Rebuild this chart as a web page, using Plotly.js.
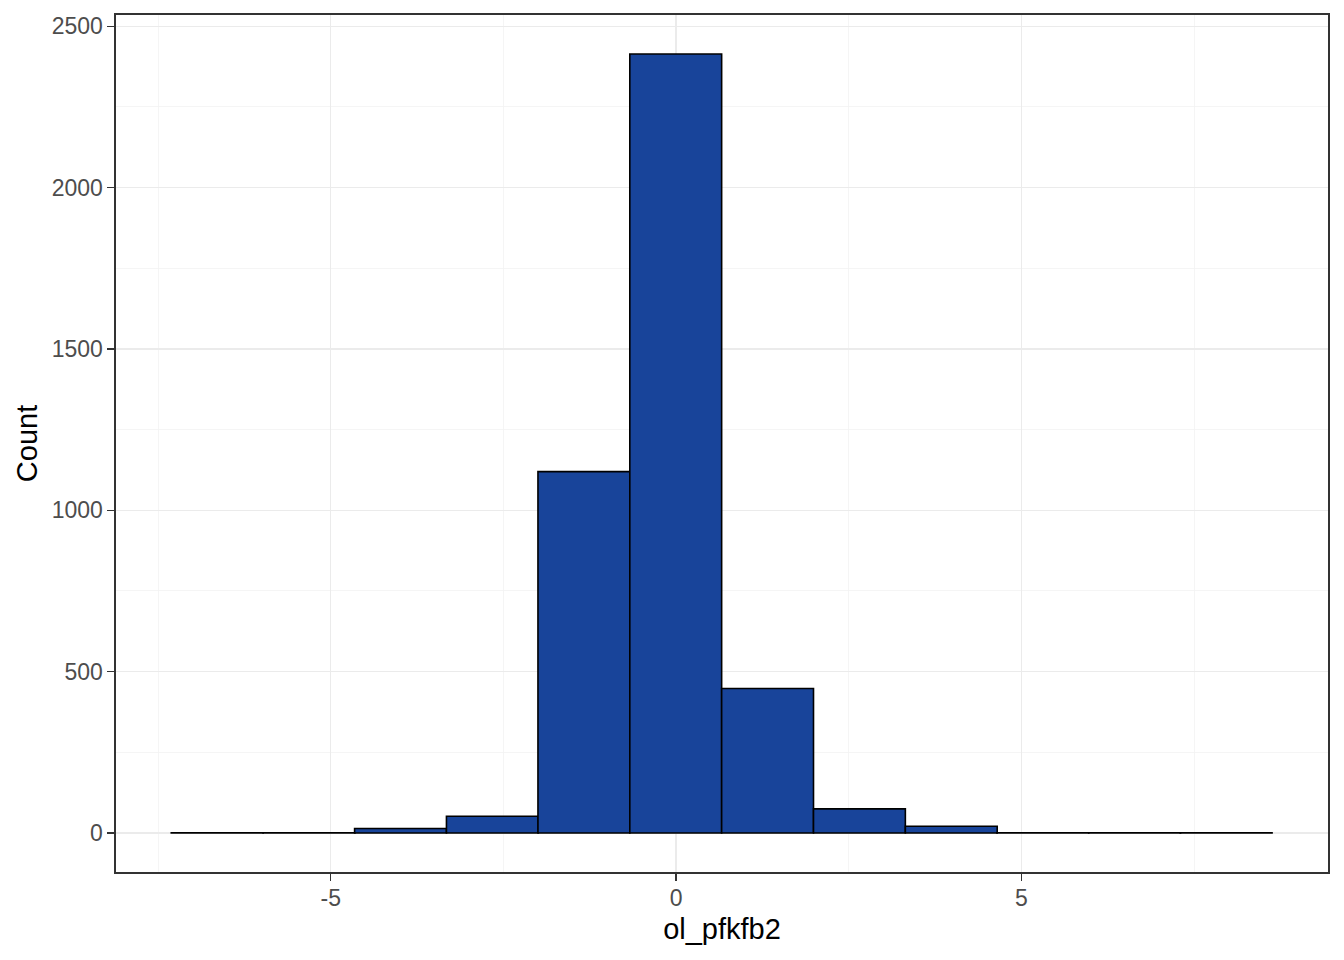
<!DOCTYPE html>
<html>
<head>
<meta charset="utf-8">
<script src="https://cdn.plot.ly/plotly-3.0.1.min.js"></script>
<style>
html,body{margin:0;padding:0;background:#fff;}
#chart{width:1344px;height:960px;}
</style>
</head>
<body>
<div id="chart"></div>
<script>
// Histogram of ol_pfkfb2, 12 bins of width ~1.33
const binCenters = [-6.645, -5.315, -3.99, -2.66, -1.335, -0.005, 1.325, 2.655, 3.985, 5.31, 6.64, 7.965];
const binWidth = 1.33;
const counts = [1, 1, 14, 52, 1120, 2414, 448, 75, 21, 1, 1, 1];
const xTickVals = [-5, 0, 5];
const xTickText = ['-5', '0', '5'];
const yTickVals = [0, 500, 1000, 1500, 2000, 2500];
const yTickText = ['0', '500', '1000', '1500', '2000', '2500'];
const xTitle = 'ol_pfkfb2';
const yTitle = 'Count';

const font = 'Liberation Sans, Arial, sans-serif';

const trace = {
  type: 'bar',
  x: binCenters,
  y: counts,
  width: binCenters.map(() => binWidth),
  marker: {color: '#18449A', line: {color: '#000000', width: 1.6}},
  hoverinfo: 'x+y'
};

const layout = {
  width: 1344, height: 960,
  margin: {l: 116, r: 16, t: 15, b: 88},
  paper_bgcolor: '#ffffff',
  plot_bgcolor: '#ffffff',
  showlegend: false,
  bargap: 0,
  font: {family: font, color: '#4D4D4D'},
  xaxis: {
    range: [-8.11, 9.44],
    tickmode: 'array', tickvals: xTickVals, ticktext: xTickText,
    ticks: 'outside', ticklen: 7, tickwidth: 1.4, tickcolor: '#333333',
    tickfont: {family: font, size: 23, color: '#4D4D4D'},
    ticklabelstandoff: -2,
    showgrid: true, gridcolor: '#EBEBEB', gridwidth: 1.4,
    minor: {tickvals: [-7.5, -2.5, 2.5, 7.5], showgrid: true, gridcolor: '#F2F2F2', gridwidth: 0.8, ticks: ''},
    zeroline: false,
    showline: true, linecolor: '#333333', linewidth: 1.6, mirror: true,
    title: {text: xTitle, font: {family: font, size: 29, color: '#000000'}, standoff: 8}
  },
  yaxis: {
    range: [-120.7, 2534.7],
    tickmode: 'array', tickvals: yTickVals, ticktext: yTickText,
    ticks: 'outside', ticklen: 7, tickwidth: 1.4, tickcolor: '#333333',
    tickfont: {family: font, size: 23, color: '#4D4D4D'},
    showgrid: true, gridcolor: '#EBEBEB', gridwidth: 1.4,
    minor: {tickvals: [250, 750, 1250, 1750, 2250], showgrid: true, gridcolor: '#F2F2F2', gridwidth: 0.8, ticks: ''},
    zeroline: false,
    showline: true, linecolor: '#333333', linewidth: 1.6, mirror: true,
    title: {text: yTitle, font: {family: font, size: 29, color: '#000000'}, standoff: 5}
  }
};

Plotly.newPlot('chart', [trace], layout, {displayModeBar: false, staticPlot: true});
</script>
</body>
</html>
